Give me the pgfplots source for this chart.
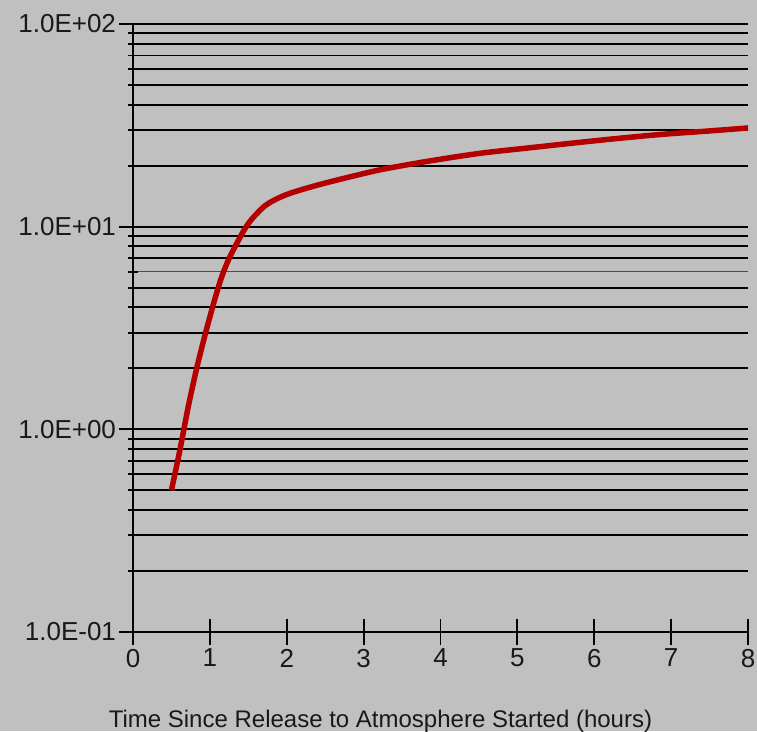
\documentclass[border=0pt]{standalone}
\usepackage{fontspec}
\setmainfont{Liberation Sans}
\usepackage{pgfplots}
\pgfplotsset{compat=1.18}
\definecolor{bg}{RGB}{192,192,192}
\definecolor{curve}{RGB}{180,0,0}
\begin{document}
\begin{tikzpicture}[x=1pt,y=1pt]
\fill[bg] (-133,-99) rectangle (624,632);
\begin{axis}[
  at={(0,0)}, anchor=south west,
  scale only axis, width=615pt, height=608pt,
  xmin=0, xmax=8, ymode=log, ymin=0.1, ymax=100,
  axis x line*=bottom, axis y line*=left,
  axis line style={line width=1.8pt, black},
  xtick={0,1,2,3,4,5,6,7,8}, xticklabels={0,1,2,3,4,5,6,7,8},
  ytick={0.1,1,10,100}, yticklabels={1.0E-01,1.0E+00,1.0E+01,1.0E+02},
  minor ytick={0.2,0.3,0.4,0.5,0.6,0.7,0.8,0.9,2,3,4,5,7,8,9,20,30,40,50,60,70,80,90},
  ymajorgrids, yminorgrids,
  major grid style={line width=1.8pt, black},
  minor grid style={line width=1.8pt, black},
  tick align=center, major tick length=27pt, minor tick length=10pt,
  tick style={line width=1.8pt, black},
  extra y ticks={6}, extra y tick labels={},
  extra y tick style={ymajorgrids=true, major grid style={line width=1.4pt, black!70}, major tick length=10pt},
  ticklabel style={font=\fontsize{26}{26}\selectfont, text=black!90},
  xlabel={Time Since Release to Atmosphere Started (hours)},
  xlabel style={font=\fontsize{24}{24}\selectfont, text=black!90, at={(axis description cs:0.4024,0)}, anchor=base, yshift=-95pt},
  clip=false,
]
\addplot[color=curve, line width=5.5pt, line join=round, smooth, tension=0.5] coordinates {
(0.50,0.50)
(0.61,0.79)
(0.72,1.30)
(0.83,2.01)
(0.94,2.95)
(1.05,4.20)
(1.15,5.60)
(1.26,7.10)
(1.43,9.40)
(1.52,10.6)
(1.62,11.7)
(1.72,12.7)
(1.85,13.6)
(2.04,14.6)
(2.39,16.0)
(2.82,17.6)
(3.25,19.2)
(3.86,21.1)
(4.51,23.0)
(5.16,24.5)
(5.62,25.6)
(6.20,27.0)
(6.86,28.5)
(7.51,29.7)
(8.00,30.7)
};
\end{axis}
\pgfresetboundingbox
\useasboundingbox (-133,-99) rectangle (624,632);
\end{tikzpicture}
\end{document}
